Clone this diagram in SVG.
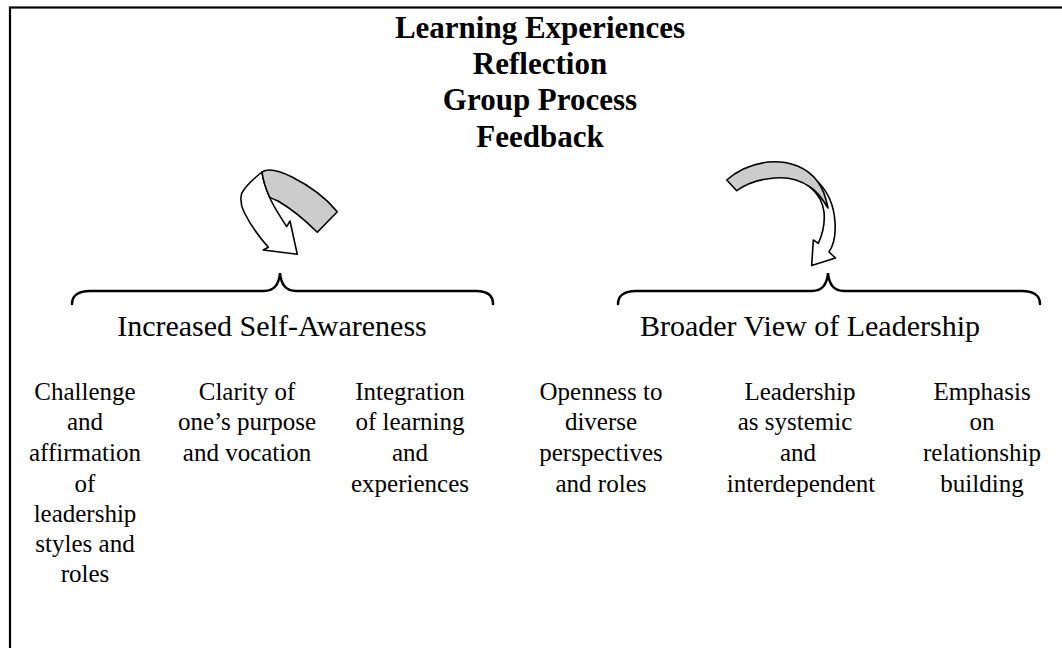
<svg xmlns="http://www.w3.org/2000/svg" width="1062" height="648" viewBox="0 0 1062 648">
<defs>
<style>
text{font-family:'Liberation Serif','Times New Roman',Tinos,Times,'Nimbus Roman','DejaVu Serif','Noto Serif',serif;fill:#000;text-anchor:middle}
.title{font-weight:bold;font-size:31px}
.head{font-size:30px}
.item{font-size:25px}
.brace{fill:none;stroke:#000;stroke-width:2.5;stroke-linecap:round}
.arrw{stroke:#000;stroke-width:1.6;stroke-linejoin:round}
</style>
</defs>
<rect x="0" y="0" width="1062" height="648" fill="#fff"/>
<rect x="10" y="7.5" width="1100" height="700" fill="none" stroke="#000" stroke-width="2.2"/>

<g id="title">
<text class="title" x="540" y="38" font-family="Liberation Serif, serif">Learning Experiences</text>
<text class="title" x="540" y="74" font-family="Liberation Serif, serif">Reflection</text>
<text class="title" x="540" y="110" font-family="Liberation Serif, serif">Group Process</text>
<text class="title" x="540" y="147" font-family="Liberation Serif, serif">Feedback</text>
</g>

<g id="connectors">
<g id="arrow-left">
<path class="arrw" fill="#fff" d="M262,172 C252,180 245,187 241.7,193.3 C240,200 241,206 244,212 C251,226 260,238 268.3,247.3 L263.3,250 L297.3,254.3 L290,221 L286.7,226.7 C280,216 273,206 269.5,197 C266,189 263,180 262,172 Z"/>
<path class="arrw" fill="#ccc" d="M262,172 C268,168 280,171 292,177 C310,186 326,198 337.3,211.7 L317.3,232.3 C305,220 290,208 278,201 C273,199 270.5,198 269.5,197 C266,189 263,180 262,172 Z"/>
</g>
<g id="arrow-right">
<path class="arrw" fill="#fff" d="M818,182 C828,192 834,206 835,222 C836,236 833,246 829,252 L835.5,258 L811.7,265.5 L813.3,240 L818.3,243.3 C823,233 825,222 824,212 C823,202 818,194 810,187 Z"/>
<path class="arrw" fill="#ccc" d="M726.7,180 C738,170 752,164 768,162 C790,160 808,168 818,182 C824,190 826,198 828,208 C822,198 817,191 810,187 C800,180 788,177 775,178 C760,179 746,184 736.7,190.7 Z"/>
</g>
<path id="brace-left" class="brace" d="M72,304 C72,296 78,291 90,291 L264,291 C274,291 279,285 280,273 C281,285 286,291 296,291 L476,291 C488,291 493,296 493,304"/>
<path id="brace-right" class="brace" d="M618,304 C618,296 624,291 636,291 L812,291 C822,291 827,285 828,273 C829,285 834,291 844,291 L1022,291 C1034,291 1040,296 1040,304"/>
</g>

<g id="self-awareness">
<text class="head" x="272" y="336">Increased Self-Awareness</text>
</g>
<g id="broader-view">
<text class="head" x="810" y="336">Broader View of Leadership</text>
</g>

<g id="item-challenge">
<text class="item" x="85" y="400">Challenge</text>
<text class="item" x="85" y="430">and</text>
<text class="item" x="85" y="461">affirmation</text>
<text class="item" x="85" y="492">of</text>
<text class="item" x="85" y="522">leadership</text>
<text class="item" x="85" y="552">styles and</text>
<text class="item" x="85" y="582">roles</text>
</g>
<g id="item-clarity">
<text class="item" x="247" y="400">Clarity of</text>
<text class="item" x="247" y="430">one’s purpose</text>
<text class="item" x="247" y="461">and vocation</text>
</g>
<g id="item-integration">
<text class="item" x="410" y="400">Integration</text>
<text class="item" x="410" y="430">of learning</text>
<text class="item" x="410" y="461">and</text>
<text class="item" x="410" y="492">experiences</text>
</g>
<g id="item-openness">
<text class="item" x="601" y="400">Openness to</text>
<text class="item" x="601" y="430">diverse</text>
<text class="item" x="601" y="461">perspectives</text>
<text class="item" x="601" y="492">and roles</text>
</g>
<g id="item-systemic">
<text class="item" x="800" y="400">Leadership</text>
<text class="item" x="795" y="430">as systemic</text>
<text class="item" x="798" y="461">and</text>
<text class="item" x="801" y="492">interdependent</text>
</g>
<g id="item-relationship">
<text class="item" x="982" y="400">Emphasis</text>
<text class="item" x="982" y="430">on</text>
<text class="item" x="982" y="461">relationship</text>
<text class="item" x="982" y="492">building</text>
</g>
</svg>
